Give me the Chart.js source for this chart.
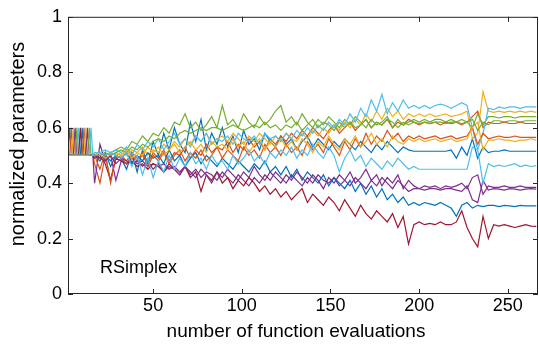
<!DOCTYPE html>
<html>
<head>
<meta charset="utf-8">
<script src="https://cdn.jsdelivr.net/npm/chart.js"></script>
<style>
  html, body { margin: 0; padding: 0; background: #fff; }
</style>
</head>
<body>
<canvas id="paramChart" width="539" height="354"></canvas>
<script>
// number of function evaluations (x positions of the samples)
const evals = [2,3,4,5,6,7,8,9,10,11,12,13,14,15,16,
  17,20,23,26,29,32,35,38,41,44,47,50,53,56,59,62,65,68,71,74,77,80,83,86,89,92,95,98,
  101,104,107,110,113,116,119,122,125,128,131,134,137,140,143,146,149,152,155,158,161,164,167,170,
  173,176,179,182,185,188,191,194,197,200,203,206,209,212,215,218,221,224,227,230,233,236,239,242,
  245,248,251,254,257,260,263,266];

const xTicks = [50, 100, 150, 200, 250];
const yTicks = [0, 0.2, 0.4, 0.6, 0.8, 1];

// normalized parameters, one array per parameter
const p1 = [.5,.6,.5,.5,.5,.5,.5,.5,.5,.5,.5,.5,.5,.5,.5,
  .50,.48,.51,.46,.50,
  .49,.45,.51,.44,.52,.47,.55,
  .50,.58,.52,.60,.54,.51,.62,.55,.63,.52,.58,.54,
  .60,.53,.57,.51,.59,.54,.56,.52,.58,.55,.53,.57,
  .54,.56,.52,.55,.57,.53,.56,.54,.52,.55,.53,.56,
  .54,.52,.55,.53,.51,.54,.52,.55,.53,.51,.53,.52,
  .515,.515,.515,.515,.515,.515,.515,.52,.49,.53,.50,.56,
  .49,.53,.51,.515,.515,.52,.515,.515,.515,.515,.515,.515];
const p2 = [.5,.5,.6,.5,.5,.5,.5,.5,.5,.5,.5,.5,.5,.5,.5,
  .47,.40,.50,.41,.49,
  .50,.48,.51,.49,.50,.47,.51,
  .49,.52,.48,.51,.50,.53,.49,.52,.50,.54,.51,.53,
  .52,.55,.51,.54,.52,.56,.53,.55,.52,.56,.54,.57,
  .55,.58,.56,.59,.57,.60,.58,.56,.59,.61,.58,.60,
  .62,.59,.61,.63,.60,.62,.61,.63,.60,.62,.61,.63,
  .62,.61,.62,.615,.62,.61,.62,.615,.62,.61,.62,.64,
  .66,.60,.62,.615,.615,.62,.615,.615,.62,.615,.615,.615];
const p3 = [.5,.5,.5,.6,.5,.5,.5,.5,.5,.5,.5,.5,.5,.5,.5,
  .50,.49,.50,.51,.50,
  .51,.50,.52,.51,.53,.50,.52,
  .51,.54,.52,.55,.53,.56,.54,.57,.55,.58,.54,.56,
  .57,.55,.58,.56,.54,.57,.55,.58,.56,.54,.57,.55,
  .58,.56,.55,.58,.56,.59,.57,.60,.58,.61,.59,.62,
  .60,.63,.61,.65,.62,.66,.63,.67,.64,.66,.63,.65,
  .64,.65,.64,.65,.64,.645,.65,.64,.645,.65,.66,.56,
  .58,.73,.66,.655,.66,.655,.66,.655,.66,.655,.66,.655];
const p4 = [.5,.5,.5,.5,.6,.5,.5,.5,.5,.5,.5,.5,.5,.5,.5,
  .40,.54,.48,.50,.41,
  .48,.47,.49,.47,.48,.46,.47,
  .46,.47,.45,.46,.44,.46,.43,.45,.42,.44,.43,.41,
  .44,.42,.40,.43,.41,.39,.42,.40,.43,.41,.44,.42,
  .40,.43,.41,.39,.42,.40,.43,.41,.40,.42,.39,.41,
  .44,.40,.42,.45,.41,.43,.39,.42,.40,.43,.38,.41,
  .39,.38,.39,.385,.39,.38,.39,.385,.39,.40,.38,.42,
  .43,.36,.39,.385,.385,.39,.385,.385,.39,.385,.385,.385];
const p5 = [.5,.5,.5,.5,.5,.6,.5,.5,.5,.5,.5,.5,.5,.5,.5,
  .50,.51,.50,.51,.52,
  .53,.52,.55,.54,.57,.55,.58,
  .57,.60,.58,.62,.61,.65,.60,.62,.59,.61,.64,.60,
  .68,.61,.63,.60,.65,.62,.60,.64,.61,.63,.66,.68,
  .62,.64,.61,.65,.62,.60,.63,.61,.64,.62,.60,.63,
  .61,.64,.62,.60,.63,.61,.62,.64,.60,.63,.61,.62,
  .63,.62,.63,.62,.63,.63,.62,.63,.62,.63,.62,.60,
  .65,.61,.64,.64,.635,.64,.64,.635,.64,.64,.64,.64];
const p6 = [.5,.5,.5,.5,.5,.5,.6,.5,.5,.5,.5,.5,.5,.5,.5,
  .51,.51,.52,.51,.52,
  .51,.53,.50,.54,.52,.55,.53,
  .56,.52,.55,.58,.54,.56,.53,.57,.55,.58,.54,.56,
  .55,.57,.54,.58,.56,.55,.57,.54,.58,.56,.57,.55,
  .58,.56,.59,.57,.60,.58,.61,.59,.62,.60,.63,.61,
  .65,.62,.67,.64,.70,.66,.72,.65,.69,.66,.70,.67,
  .68,.67,.68,.67,.68,.685,.68,.67,.68,.69,.68,.60,
  .52,.58,.67,.665,.675,.67,.675,.675,.67,.675,.675,.675];
const p7 = [.5,.5,.5,.5,.5,.5,.5,.6,.5,.5,.5,.5,.5,.5,.5,
  .49,.50,.47,.41,.49,
  .48,.47,.48,.46,.47,.45,.47,
  .46,.44,.47,.45,.43,.46,.42,.44,.37,.43,.41,.44,
  .40,.42,.38,.41,.39,.42,.40,.37,.39,.36,.38,.35,
  .37,.34,.36,.38,.33,.36,.34,.32,.35,.33,.30,.34,
  .31,.28,.32,.29,.27,.30,.28,.26,.29,.24,.28,.18,
  .25,.26,.25,.255,.25,.26,.25,.25,.26,.30,.24,.20,
  .17,.28,.20,.25,.245,.25,.245,.24,.245,.25,.245,.244];
const p8 = [.5,.5,.5,.5,.5,.5,.5,.5,.6,.5,.5,.5,.5,.5,.5,
  .50,.49,.50,.48,.50,
  .49,.51,.47,.50,.48,.51,.49,
  .50,.47,.52,.48,.50,.46,.49,.51,.47,.50,.48,.46,
  .49,.47,.45,.48,.46,.44,.47,.45,.48,.44,.46,.43,
  .46,.42,.45,.41,.44,.42,.40,.43,.39,.42,.40,.38,
  .41,.37,.40,.36,.39,.35,.38,.34,.36,.33,.35,.32,
  .33,.32,.33,.325,.32,.33,.32,.31,.28,.32,.33,.31,
  .32,.315,.32,.32,.315,.32,.318,.315,.32,.318,.318,.318];
const p9 = [.5,.5,.5,.5,.5,.5,.5,.5,.5,.6,.5,.5,.5,.5,.5,
  .50,.45,.51,.40,.50,
  .49,.47,.50,.48,.51,.46,.50,
  .48,.51,.47,.50,.52,.48,.51,.49,.52,.48,.50,.53,
  .49,.52,.50,.48,.53,.50,.52,.49,.54,.51,.53,.50,
  .54,.51,.53,.50,.55,.52,.54,.51,.56,.53,.50,.55,
  .52,.56,.53,.58,.54,.57,.55,.59,.56,.58,.55,.57,
  .56,.57,.56,.565,.57,.56,.565,.57,.56,.565,.57,.60,
  .54,.58,.56,.565,.57,.565,.565,.57,.565,.565,.565,.565];
const p10 = [.5,.5,.5,.5,.5,.5,.5,.5,.5,.5,.6,.5,.5,.5,.5,
  .50,.51,.49,.50,.51,
  .50,.52,.49,.51,.50,.53,.51,
  .53,.50,.52,.54,.51,.53,.55,.52,.54,.51,.55,.53,
  .54,.52,.56,.53,.55,.51,.54,.56,.52,.55,.53,.56,
  .53,.55,.52,.56,.54,.51,.55,.53,.57,.54,.52,.56,
  .54,.57,.53,.55,.58,.54,.56,.53,.57,.55,.54,.56,
  .55,.56,.55,.555,.56,.55,.555,.56,.55,.555,.56,.60,
  .62,.52,.555,.555,.56,.555,.555,.55,.555,.555,.56,.555];
const p11 = [.5,.5,.5,.5,.5,.5,.5,.5,.5,.5,.5,.6,.5,.5,.5,
  .50,.49,.48,.50,.47,
  .49,.48,.47,.48,.46,.48,.45,
  .47,.44,.46,.45,.43,.46,.44,.42,.45,.43,.40,.44,
  .42,.45,.43,.41,.44,.42,.46,.43,.41,.44,.42,.40,
  .43,.41,.44,.42,.40,.43,.41,.38,.42,.40,.43,.41,
  .39,.42,.40,.38,.41,.39,.42,.40,.38,.41,.39,.37,
  .38,.38,.375,.38,.38,.375,.38,.38,.375,.37,.39,.34,
  .33,.41,.375,.38,.378,.375,.38,.378,.375,.378,.38,.378];
const p12 = [.5,.5,.5,.5,.5,.5,.5,.5,.5,.5,.5,.5,.6,.5,.5,
  .50,.50,.51,.50,.51,
  .52,.51,.53,.52,.54,.53,.55,
  .56,.55,.57,.56,.58,.59,.58,.59,.60,.59,.60,.60,
  .59,.60,.61,.60,.59,.60,.61,.60,.62,.60,.61,.59,
  .61,.60,.62,.59,.61,.63,.60,.62,.61,.59,.62,.60,
  .62,.60,.61,.63,.60,.62,.61,.63,.62,.60,.62,.61,
  .62,.615,.62,.615,.62,.62,.615,.62,.62,.615,.62,.63,
  .59,.62,.61,.625,.625,.62,.625,.625,.62,.625,.625,.625];
const p13 = [.5,.5,.5,.5,.5,.5,.5,.5,.5,.5,.5,.5,.5,.6,.5,
  .51,.51,.50,.51,.50,
  .49,.51,.46,.50,.43,.49,.42,
  .48,.44,.50,.45,.49,.46,.51,.47,.49,.45,.50,.47,
  .48,.45,.50,.47,.49,.52,.48,.50,.47,.51,.49,.52,
  .50,.53,.49,.52,.50,.54,.51,.49,.53,.50,.44,.49,
  .52,.48,.50,.46,.49,.47,.45,.48,.46,.49,.47,.45,
  .46,.45,.45,.45,.45,.45,.45,.45,.45,.45,.45,.53,
  .52,.40,.47,.46,.465,.46,.465,.47,.46,.465,.46,.463];

const params = [p1, p2, p3, p4, p5, p6, p7, p8, p9, p10, p11, p12, p13];
const colors = ['#0072BD', '#D95319', '#EDB120', '#7E2F8E', '#77AC30', '#4DBEEE', '#A2142F'];

const fontFamily = '"Liberation Sans", Arial, Helvetica, sans-serif';

// Boite des axes, graduations vers l'interieur, titres et annotation
const axesBox = {
  id: 'axesBox',
  afterDatasetsDraw(chart) {
    const { ctx, chartArea: a, scales: { x, y } } = chart;
    ctx.save();
    ctx.strokeStyle = '#262626';
    ctx.lineWidth = 1;
    ctx.strokeRect(a.left + 0.5, a.top + 0.5, a.right - a.left - 1, a.bottom - a.top - 1);
    ctx.beginPath();
    xTicks.forEach(v => {
      const px = Math.round(x.getPixelForValue(v)) + 0.5;
      ctx.moveTo(px, a.bottom); ctx.lineTo(px, a.bottom - 5);
      ctx.moveTo(px, a.top); ctx.lineTo(px, a.top + 5);
    });
    yTicks.forEach(v => {
      const py = Math.round(y.getPixelForValue(v)) + 0.5;
      ctx.moveTo(a.left, py); ctx.lineTo(a.left + 5, py);
      ctx.moveTo(a.right, py); ctx.lineTo(a.right - 5, py);
    });
    ctx.stroke();

    ctx.fillStyle = '#000';
    ctx.textBaseline = 'middle';
    ctx.font = '18px ' + fontFamily;
    ctx.fillText('RSimplex', x.getPixelForValue(20), y.getPixelForValue(0.095));

    ctx.textAlign = 'center';
    ctx.font = '19px ' + fontFamily;
    ctx.fillText('number of function evaluations', 296, 332);
    ctx.translate(18.5, 144);
    ctx.rotate(-Math.PI / 2);
    ctx.font = '20px ' + fontFamily;
    ctx.fillText('normalized parameters', 0, 0);
    ctx.restore();
  }
};

const ctx = document.getElementById('paramChart').getContext('2d');
new Chart(ctx, {
  type: 'line',
  data: {
    datasets: params.map((p, i) => ({
      data: evals.map((e, j) => ({ x: e, y: p[j] })),
      borderColor: colors[i % colors.length],
      borderWidth: 1.2,
      pointRadius: 0,
      tension: 0,
      order: params.length - i
    }))
  },
  options: {
    responsive: false,
    animation: false,
    layout: { padding: { top: 10, right: 1, left: 0, bottom: 0 } },
    plugins: { legend: { display: false }, tooltip: { enabled: false } },
    scales: {
      x: {
        type: 'linear',
        min: 2,
        max: 267,
        afterBuildTicks: s => { s.ticks = xTicks.map(v => ({ value: v })); },
        afterFit: s => { s.height = 60; },
        grid: { display: false, drawTicks: false },
        border: { display: false },
        ticks: { padding: 1, color: '#000', maxRotation: 0, autoSkip: false,
          font: { family: fontFamily, size: 18 } }
      },
      y: {
        min: 0,
        max: 1,
        afterBuildTicks: s => { s.ticks = yTicks.map(v => ({ value: v })); },
        afterFit: s => { s.width = 68; },
        grid: { display: false, drawTicks: false },
        border: { display: false },
        ticks: { padding: 6, color: '#000', callback: v => String(v),
          font: { family: fontFamily, size: 18 } }
      }
    }
  },
  plugins: [axesBox]
});
</script>
</body>
</html>
